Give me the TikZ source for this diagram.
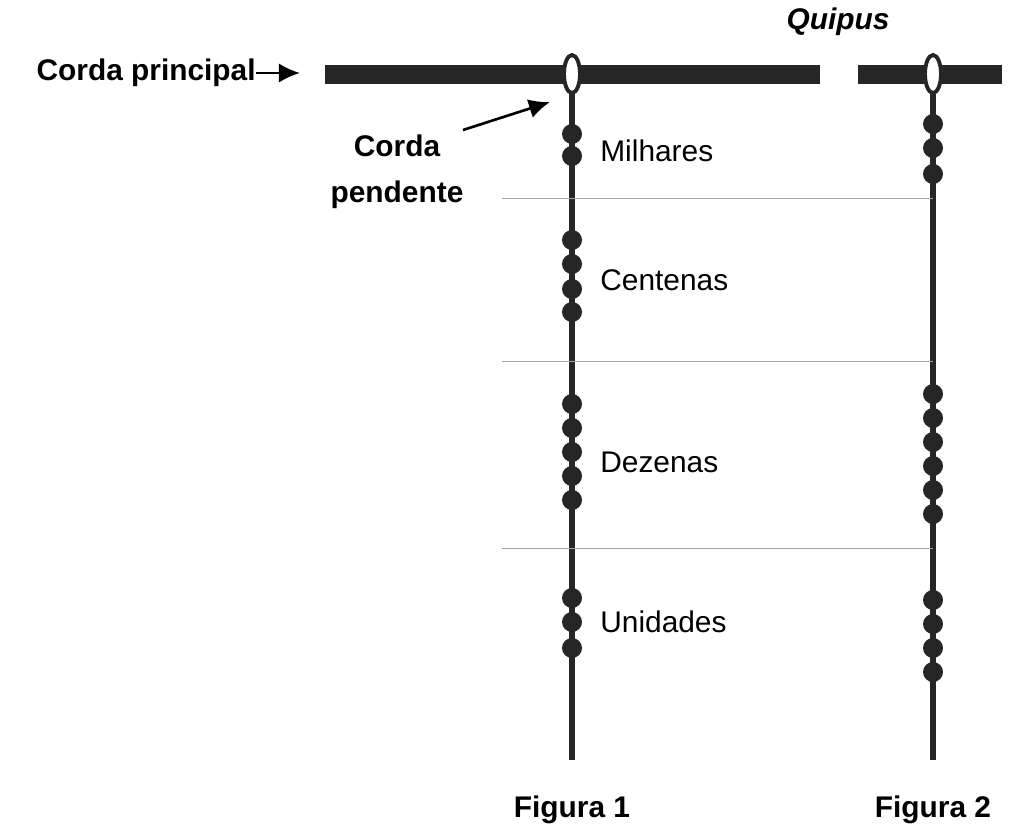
\documentclass[tikz,border=0pt]{standalone}
\usepackage{fontspec}
\setmainfont{Liberation Sans}
\usetikzlibrary{arrows.meta}
\begin{document}
\begin{tikzpicture}[x=0.02cm,y=-0.02cm,
  lbl/.style={font=\fontsize{17}{20}\selectfont,inner sep=0pt},
  blbl/.style={lbl,font=\fontsize{17}{20}\selectfont\bfseries},
  bead/.style={circle,fill=black!85,minimum size=20*0.02cm,inner sep=0pt},
  cord/.style={line width=3pt,black!85},
  sep/.style={gray!70,line width=0.5pt}]
\useasboundingbox (0,0) rectangle (1011,839);
% corda principal
\fill[black!85] (325,65) rectangle (820,84);
\fill[black!85] (858,65) rectangle (1002,84);
% cordas pendentes
\foreach \x/\n in {572/a,933/b}{
  \coordinate (top\n) at (\x,94);
  \coordinate (bot\n) at (\x,760);
  \draw[cord] (top\n) -- (bot\n);
  \draw[black!85,line width=2.2pt,fill=white] (\x,74) ellipse (8 and 19);
}
% separadores
\foreach \y/\n in {198/1,361/2,548/3}{
  \coordinate (sl\n) at (502,\y);
  \coordinate (sr\n) at (933,\y);
  \draw[sep] (sl\n) -- (sr\n);
}
% nos
\foreach \y in {134,156,240,264,289,312,404,428,452,476,500,598,622,648}
  \node[bead] at (572,\y) {};
\foreach \y in {124,148,174,394,418,442,466,490,514,600,624,648,672}
  \node[bead] at (933,\y) {};
% textos
\node[lbl,anchor=west] (mil) at (600,151) {Milhares};
\node[lbl,anchor=west] (cen) at (600,280) {Centenas};
\node[lbl,anchor=west] (dez) at (600,462) {Dezenas};
\node[lbl,anchor=west] (uni) at (600,622) {Unidades};
\node[blbl,anchor=east] (cp) at (256,73) {Corda principal};
\coordinate (cpend) at (300,73);
\draw[-{Latex[length=12pt,width=11pt]},line width=1.5pt] (cp.east) -- (cpend);
\node[blbl,align=center] (pend) at (397,172) {Corda\\[6pt]pendente};
\coordinate (pa) at (463,130);
\coordinate (pb) at (550,102);
\draw[-{Latex[length=12pt,width=11pt]},line width=1.5pt] (pa) -- (pb);
\node[blbl,font=\fontsize{17}{20}\selectfont\bfseries\itshape] (quipus) at (838,22) {Quipus};
\node[blbl] (fig1) at (572,810) {Figura 1};
\node[blbl] (fig2) at (933,810) {Figura 2};
\end{tikzpicture}
\end{document}
